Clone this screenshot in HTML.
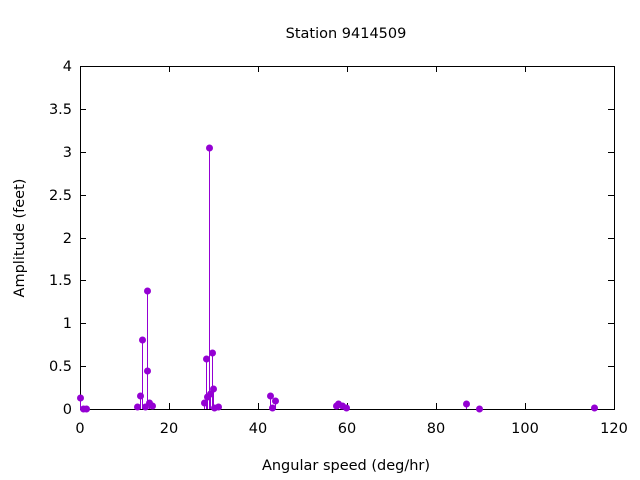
<!DOCTYPE html>
<html><head><meta charset="utf-8"><style>body{margin:0;background:#fff}svg{display:block}text{font-family:"DejaVu Sans","Liberation Sans",sans-serif;font-size:14.5px;fill:#000}</style></head><body>
<svg width="640" height="480" xmlns="http://www.w3.org/2000/svg">
<text x="346" y="38" text-anchor="middle">Station 9414509</text>
<g stroke="#000" stroke-width="1">
<rect x="80.5" y="66.5" width="534" height="343" fill="none"/>
<path d="M80 409.5h6M80 366.5h6M80 323.5h6M80 280.5h6M80 238.5h6M80 195.5h6M80 152.5h6M80 109.5h6M614 366.5h-6M614 323.5h-6M614 280.5h-6M614 238.5h-6M614 195.5h-6M614 152.5h-6M614 109.5h-6
M169.5 409v-6M258.5 409v-6M347.5 409v-6M436.5 409v-6M525.5 409v-6M169.5 66v6M258.5 66v6M347.5 66v6M436.5 66v6M525.5 66v6"/>
</g>
<g text-anchor="end">
<text x="72" y="414">0</text><text x="72" y="371">0.5</text><text x="72" y="328">1</text><text x="72" y="285">1.5</text><text x="72" y="243">2</text><text x="72" y="200">2.5</text><text x="72" y="157">3</text><text x="72" y="114">3.5</text><text x="72" y="71">4</text>
</g>
<g text-anchor="middle">
<text x="80" y="433">0</text><text x="169" y="433">20</text><text x="258" y="433">40</text><text x="347" y="433">60</text><text x="436" y="433">80</text><text x="525" y="433">100</text><text x="614" y="433">120</text>
<text x="346" y="470">Angular speed (deg/hr)</text>
<text transform="translate(24,238) rotate(-90)">Amplitude (feet)</text>
</g>
<g stroke="#9400d3" stroke-width="1" transform="translate(0.5,0)">
<path d="M80 409V398M137 409V407M140 409V396M142 409V340M145 409V407M147 409V291M149 409V403M152 409V406M204 409V403M206 409V359M207 409V397M209 409V148M210 409V394M212 409V353M213 409V389M270 409V396M275 409V401M336 409V406M338 409V404M342 409V406M466 409V404"/>
</g>
<g fill="#9400d3" transform="translate(0.5,0)">
<circle cx="80" cy="398" r="3.5"/><circle cx="83" cy="409" r="3.5"/><circle cx="86" cy="409" r="3.5"/>
<circle cx="137" cy="407" r="3.5"/><circle cx="140" cy="396" r="3.5"/><circle cx="142" cy="340" r="3.5"/><circle cx="145" cy="407" r="3.5"/><circle cx="147" cy="371" r="3.5"/><circle cx="147" cy="291" r="3.5"/><circle cx="149" cy="403" r="3.5"/><circle cx="152" cy="406" r="3.5"/>
<circle cx="204" cy="403" r="3.5"/><circle cx="206" cy="359" r="3.5"/><circle cx="207" cy="397" r="3.5"/><circle cx="209" cy="148" r="3.5"/><circle cx="210" cy="394" r="3.5"/><circle cx="212" cy="353" r="3.5"/><circle cx="213" cy="389" r="3.5"/><circle cx="214" cy="408" r="3.5"/><circle cx="218" cy="407" r="3.5"/>
<circle cx="270" cy="396" r="3.5"/><circle cx="272" cy="408" r="3.5"/><circle cx="275" cy="401" r="3.5"/>
<circle cx="336" cy="406" r="3.5"/><circle cx="338" cy="404" r="3.5"/><circle cx="342" cy="406" r="3.5"/><circle cx="346" cy="408" r="3.5"/>
<circle cx="466" cy="404" r="3.5"/><circle cx="479" cy="409" r="3.5"/><circle cx="594" cy="408" r="3.5"/>
</g>
</svg>
</body></html>
